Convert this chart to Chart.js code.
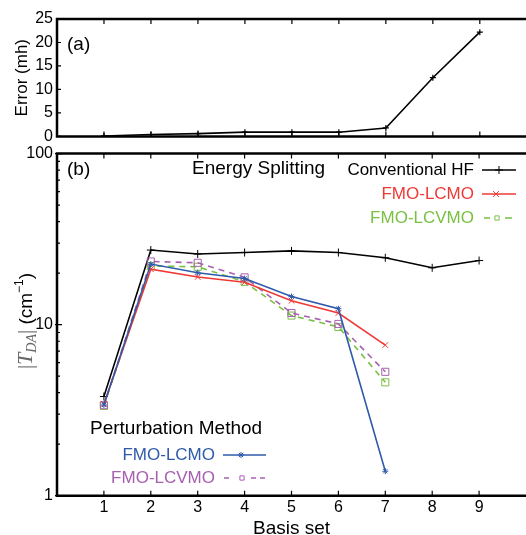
<!DOCTYPE html>
<html><head><meta charset="utf-8">
<script src="https://cdn.jsdelivr.net/npm/chart.js@4/dist/chart.umd.min.js"></script>
<style>
html,body{margin:0;padding:0;overflow:hidden;background:#fff;width:526px;height:535px;}
#wrap{position:relative;width:526px;height:535px;overflow:hidden;background:#fff;}
#c1{position:absolute;left:0;top:0;}
#c2{position:absolute;left:0;top:140px;}
</style></head><body><div id="wrap">
<canvas id="c1" width="532" height="150"></canvas>
<canvas id="c2" width="532" height="400"></canvas>
</div>
<script>
// ---- data ----
const basisSets = [1, 2, 3, 4, 5, 6, 7, 8, 9];
const errorMh = [0.1, 0.4, 0.6, 0.9, 0.9, 0.9, 1.8, 12.5, 22.2];
const convHF = [3.8, 27.3, 25.9, 26.4, 27.0, 26.4, 24.6, 21.5, 23.7];
const esLCMO = [3.44, 21.1, 19.0, 17.7, 13.8, 11.7, 7.6];
const esLCVMO = [3.35, 22.0, 21.8, 17.8, 11.3, 9.7, 4.6];
const ptLCMO = [3.39, 22.6, 20.1, 18.6, 14.6, 12.4, 1.39];
const ptLCVMO = [3.38, 23.4, 23.0, 18.9, 11.7, 10.1, 5.3];
const yTicksTop = [0, 5, 10, 15, 20, 25];
const yTicksBottom = [1, 10, 100];
const xTicks = [1, 2, 3, 4, 5, 6, 7, 8, 9];

const SANS = "'Liberation Sans', Arial, Helvetica, sans-serif";
const SERIF = "'Liberation Serif', 'Times New Roman', serif";
const RED = '#ee3a36', GREEN = '#79c043', BLUE = '#2f5bab', PURPLE = '#a760b0';

function pts(vals) { return vals.map((v, i) => ({x: basisSets[i], y: v})); }

function framePlugin(isLog) {
  return {
    id: 'frame',
    afterDraw(chart) {
      const ctx = chart.ctx, a = chart.chartArea;
      const xs = chart.scales.x, ys = chart.scales.y;
      ctx.save();
      ctx.strokeStyle = '#000';
      ctx.lineWidth = 2.5;
      ctx.beginPath();
      ctx.moveTo(chart.width, a.top); ctx.lineTo(a.left, a.top);
      ctx.lineTo(a.left, a.bottom); ctx.lineTo(chart.width, a.bottom);
      ctx.stroke();
      ctx.lineWidth = 1.2;
      ctx.beginPath();
      xTicks.forEach(v => {
        const px = xs.getPixelForValue(v);
        ctx.moveTo(px, a.top); ctx.lineTo(px, a.top + 5);
        ctx.moveTo(px, a.bottom); ctx.lineTo(px, a.bottom - 5);
      });
      if (isLog) {
        [1, 10].forEach(d => {
          for (let k = 2; k <= 9; k++) {
            const py = ys.getPixelForValue(d * k);
            ctx.moveTo(a.left, py); ctx.lineTo(a.left + 3, py);
          }
        });
        yTicksBottom.forEach(v => {
          const py = ys.getPixelForValue(v);
          ctx.moveTo(a.left - 2, py); ctx.lineTo(a.left + 5, py);
        });
      } else {
        yTicksTop.forEach(v => {
          const py = ys.getPixelForValue(v);
          ctx.moveTo(a.left, py); ctx.lineTo(a.left + 4, py);
        });
      }
      ctx.stroke();
      ctx.restore();
    }
  };
}

function text(ctx, s, x, y, font, color, align) {
  ctx.font = font; ctx.fillStyle = color; ctx.textAlign = align || 'left';
  ctx.textBaseline = 'middle'; ctx.fillText(s, x, y);
}

function legendLine(ctx, segs, y, color, style, r, mx) {
  ctx.save();
  ctx.strokeStyle = color; ctx.lineWidth = 1.6;
  ctx.beginPath();
  segs.forEach(s => { ctx.moveTo(s[0], y); ctx.lineTo(s[1], y); });
  ctx.stroke();
  ctx.fillStyle = 'rgba(0,0,0,0)';
  ctx.strokeStyle = color; ctx.lineWidth = 1;
  Chart.helpers.drawPoint(ctx, {pointStyle: style, radius: r, rotation: 0, borderWidth: 1}, mx, y);
  ctx.restore();
}

const topLabels = {
  id: 'topLabels',
  afterDraw(chart) {
    const ctx = chart.ctx;
    ctx.save();
    text(ctx, '(a)', 67, 45, '19px ' + SANS, '#000');
    ctx.restore();
  }
};

const bottomLabels = {
  id: 'bottomLabels',
  afterDraw(chart) {
    const ctx = chart.ctx;
    const o = 140; // canvas offset
    ctx.save();
    text(ctx, '(b)', 67, 170 - o, '19px ' + SANS, '#000');
    text(ctx, 'Energy Splitting', 192, 169 - o, '19px ' + SANS, '#000');
    text(ctx, 'Conventional HF', 474, 170 - o, '17px ' + SANS, '#000', 'right');
    legendLine(ctx, [[482, 516]], 170 - o, '#000', 'cross', 4, 499);
    text(ctx, 'FMO-LCMO', 474, 194 - o, '17px ' + SANS, RED, 'right');
    legendLine(ctx, [[482, 516]], 194 - o, RED, 'crossRot', 4.2, 496);
    text(ctx, 'FMO-LCVMO', 474, 218 - o, '17px ' + SANS, GREEN, 'right');
    legendLine(ctx, [[484, 490], [505, 512]], 218 - o, GREEN, 'rect', 3, 497);
    text(ctx, 'Perturbation Method', 90, 429 - o, '19px ' + SANS, '#000');
    text(ctx, 'FMO-LCMO', 215, 455 - o, '17px ' + SANS, BLUE, 'right');
    legendLine(ctx, [[223, 266]], 455 - o, BLUE, 'star', 3, 241);
    text(ctx, 'FMO-LCVMO', 215, 478 - o, '17px ' + SANS, PURPLE, 'right');
    legendLine(ctx, [[224, 229], [251, 256], [260, 265]], 478 - o, PURPLE, 'rect', 3, 242);

    // rotated y-axis title |T_DA| (cm^-1)
    ctx.translate(25, 321 - o);
    ctx.rotate(-Math.PI / 2);
    ctx.textBaseline = 'alphabetic'; ctx.textAlign = 'left';
    const GREY = '#666';
    const parts = [
      {s: '|', f: '21px ' + SERIF, dy: 0, c: GREY},
      {s: 'T', f: 'italic 22px ' + SERIF, dy: 0, c: GREY},
      {s: 'DA', f: 'italic 14px ' + SERIF, dy: 4, c: GREY},
      {s: '|', f: '21px ' + SERIF, dy: 0, c: GREY},
      {s: ' (cm', f: '19px ' + SANS, dy: 0, c: '#000'},
      {s: '\u22121', f: '12px ' + SANS, dy: -9, c: '#000'},
      {s: ')', f: '19px ' + SANS, dy: 0, c: '#000'}
    ];
    let total = 0;
    parts.forEach(p => { ctx.font = p.f; p.w = ctx.measureText(p.s).width; total += p.w; });
    let x = -total / 2;
    parts.forEach(p => { ctx.font = p.f; ctx.fillStyle = p.c; ctx.fillText(p.s, x, 7 + p.dy); x += p.w; });
    ctx.restore();
  }
};

new Chart(document.getElementById('c1'), {
  type: 'line',
  data: {datasets: [{
    data: pts(errorMh), borderColor: '#000', borderWidth: 1.6,
    pointStyle: 'cross', pointRadius: 3, pointBorderColor: '#000', pointBorderWidth: 1.2, tension: 0
  }]},
  options: {
    responsive: false, animation: false, events: [],
    plugins: {legend: {display: false}, tooltip: {enabled: false}},
    layout: {padding: {top: 19, bottom: 13, left: 0, right: 2}},
    scales: {
      x: {type: 'linear', min: 0, max: 10, display: false},
      y: {
        type: 'linear', min: 0, max: 25,
        afterFit: s => { s.width = 57; },
        afterBuildTicks: s => { s.ticks = yTicksTop.map(v => ({value: v})); },
        grid: {drawOnChartArea: false, drawTicks: false}, border: {display: false},
        ticks: {padding: 4, color: '#000', font: {family: SANS, size: 16}},
        title: {display: true, text: 'Error (mh)', color: '#000', font: {family: SANS, size: 17}, padding: {top: 12, bottom: 0}}
      }
    }
  },
  plugins: [framePlugin(false), topLabels]
});

function ds(vals, color, style, r, dash, order) {
  return {
    data: pts(vals), borderColor: color, borderWidth: 1.6, borderDash: dash,
    pointStyle: style, pointRadius: r, pointBorderColor: color, pointBackgroundColor: 'rgba(0,0,0,0)',
    pointBorderWidth: 1, tension: 0, order: order
  };
}

new Chart(document.getElementById('c2'), {
  type: 'line',
  data: {datasets: [
    ds(convHF, '#000', 'cross', 4, [], 5),
    ds(ptLCMO, BLUE, 'star', 3, [], 1),
    ds(esLCMO, RED, 'crossRot', 4, [], 2),
    ds(ptLCVMO, PURPLE, 'rect', 5, [6, 5], 3),
    ds(esLCVMO, GREEN, 'rect', 5, [6, 5], 4)
  ]},
  options: {
    responsive: false, animation: false, events: [],
    plugins: {legend: {display: false}, tooltip: {enabled: false}},
    layout: {padding: {top: 13.3, bottom: 0, left: 0, right: 2}},
    scales: {
      x: {
        type: 'linear', min: 0, max: 10,
        afterFit: s => { s.height = 44.3; },
        afterBuildTicks: s => { s.ticks = xTicks.map(v => ({value: v})); },
        grid: {drawOnChartArea: false, drawTicks: false}, border: {display: false},
        ticks: {padding: 2, color: '#000', font: {family: SANS, size: 16}, maxRotation: 0},
        title: {display: true, text: 'Basis set', color: '#000', font: {family: SANS, size: 19}, padding: {top: 0, bottom: 0}}
      },
      y: {
        type: 'logarithmic', min: 1, max: 100,
        afterFit: s => { s.width = 57; },
        afterBuildTicks: s => { s.ticks = yTicksBottom.map(v => ({value: v, major: true})); },
        grid: {drawOnChartArea: false, drawTicks: false}, border: {display: false},
        ticks: {padding: 4, color: '#000', font: {family: SANS, size: 16}, callback: v => String(v)}
      }
    }
  },
  plugins: [framePlugin(true), bottomLabels]
});
</script>
</body></html>
